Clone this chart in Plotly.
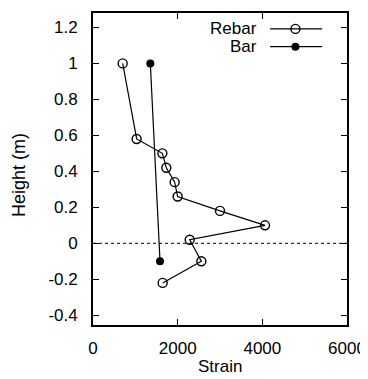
import plotly.graph_objects as go

# Data
rebar_strain = [701, 1031, 1638, 1732, 1929, 1999, 3000, 4063, 2284, 2559, 1646]
rebar_height = [1.00, 0.58, 0.50, 0.42, 0.34, 0.26, 0.18, 0.10, 0.02, -0.10, -0.22]
bar_strain = [1354, 1583]
bar_height = [1.00, -0.10]

x_ticks = [0, 2000, 4000, 6000]
y_ticks = [-0.4, -0.2, 0, 0.2, 0.4, 0.6, 0.8, 1, 1.2]
y_tick_labels = ["-0.4", "-0.2", "0", "0.2", "0.4", "0.6", "0.8", "1", "1.2"]
legend_names = ["Rebar", "Bar"]
x_title = "Strain"
y_title = "Height (m)"

FONT = "Liberation Sans, Arial, Helvetica, sans-serif"
INK = "#000000"
FS = 17

open_marker = dict(symbol="circle-open", size=9, color=INK, line=dict(width=1.4))
filled_marker = dict(symbol="circle", size=8, color=INK)

fig = go.Figure()

fig.add_trace(go.Scatter(
    x=rebar_strain, y=rebar_height, mode="lines+markers", name="Rebar",
    line=dict(color=INK, width=1.2), marker=open_marker, showlegend=False,
))
fig.add_trace(go.Scatter(
    x=bar_strain, y=bar_height, mode="lines+markers", name="Bar",
    line=dict(color=INK, width=1.2), marker=filled_marker, showlegend=False,
))

# Manual legend (text on the left, sample on the right) in an overlay axis
leg_y = [0.949, 0.892]
leg_symbols = [open_marker, filled_marker]
for name, yy, sym in zip(legend_names, leg_y, leg_symbols):
    fig.add_trace(go.Scatter(
        x=[0.697, 0.902], y=[yy, yy], mode="lines", xaxis="x2", yaxis="y2",
        line=dict(color=INK, width=1.2), showlegend=False, hoverinfo="skip"))
    fig.add_trace(go.Scatter(
        x=[0.797], y=[yy], mode="markers", xaxis="x2", yaxis="y2",
        marker=sym, showlegend=False, hoverinfo="skip"))
    fig.add_annotation(x=0.652, y=yy, xref="x2", yref="y2", text=name,
                       showarrow=False, xanchor="right", yanchor="middle",
                       font=dict(family=FONT, size=FS, color=INK))

# Axis titles
fig.add_annotation(x=0.5, y=0, xref="paper", yref="paper", text=x_title,
                   showarrow=False, xanchor="center", yanchor="middle", yshift=-41,
                   font=dict(family=FONT, size=FS, color=INK))
fig.add_annotation(x=0, y=0.5, xref="paper", yref="paper", text=y_title,
                   showarrow=False, xanchor="center", yanchor="middle", textangle=-90,
                   xshift=-74, yshift=-6,
                   font=dict(family=FONT, size=18, color=INK))

# Dotted zero line
fig.add_shape(type="line", xref="paper", yref="y", x0=0, x1=1, y0=0, y1=0,
              line=dict(color=INK, width=1, dash="dot"))

axis_common = dict(
    showline=True, linecolor=INK, linewidth=1.8, mirror="ticks",
    ticks="inside", ticklen=6, tickwidth=1.2, tickcolor=INK,
    showgrid=False, zeroline=False, automargin=False,
    tickfont=dict(family=FONT, size=FS, color=INK),
)

# Page body has an 8px margin; figure is sized/offset to compensate
fig.update_layout(
    width=360, height=371,
    margin=dict(l=85, r=21, t=5, b=54),
    paper_bgcolor="white", plot_bgcolor="white",
    xaxis=dict(range=[0, 6000], tickvals=x_ticks, ticktext=[str(v) for v in x_ticks],
               ticklabelstandoff=7, **axis_common),
    yaxis=dict(range=[-0.454, 1.28], tickvals=y_ticks, ticktext=y_tick_labels,
               ticklabelstandoff=10, **axis_common),
    xaxis2=dict(overlaying="x", range=[0, 1], visible=False, anchor="y2"),
    yaxis2=dict(overlaying="y", range=[0, 1], visible=False, anchor="x2"),
)

fig.write_html("out.html")
